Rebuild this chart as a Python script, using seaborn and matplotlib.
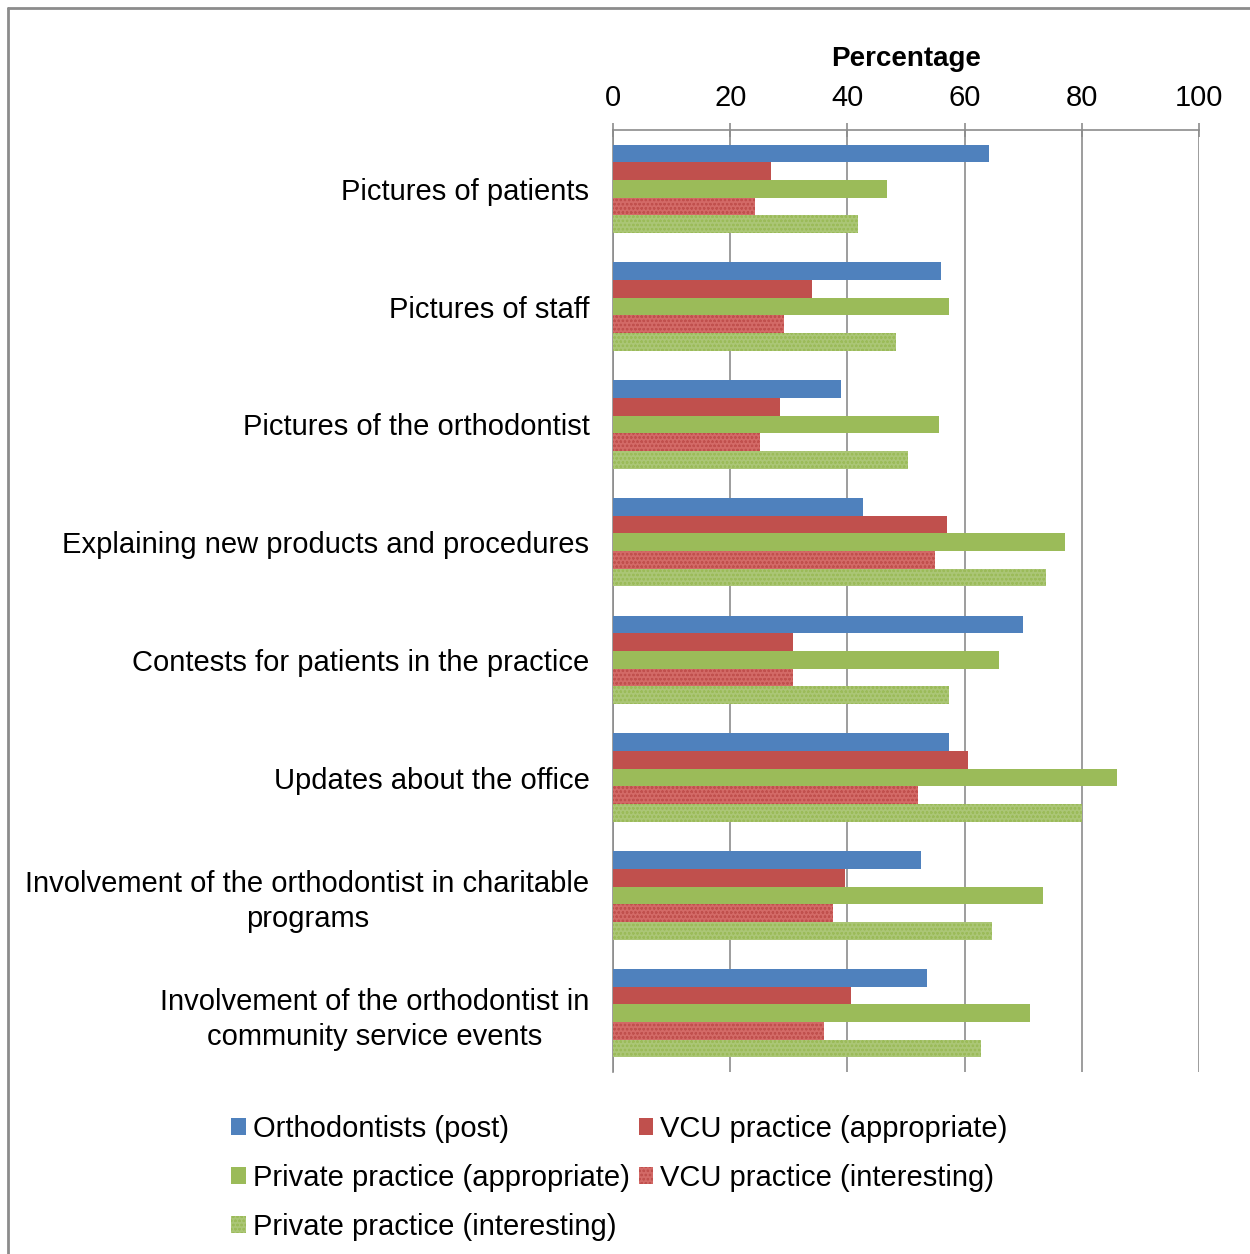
import numpy as np
import pandas as pd
import matplotlib
matplotlib.use("Agg")
import matplotlib.pyplot as plt
from matplotlib.patches import Patch
from matplotlib.lines import Line2D
import seaborn as sns

categories = [
    "Pictures of patients",
    "Pictures of staff",
    "Pictures of the orthodontist",
    "Explaining new products and procedures",
    "Contests for patients in the practice",
    "Updates about the office",
    "Involvement of the orthodontist in charitable\nprograms",
    "Involvement of the orthodontist in\ncommunity service events",
]
series = [
    "Orthodontists (post)",
    "VCU practice (appropriate)",
    "Private practice (appropriate)",
    "VCU practice (interesting)",
    "Private practice (interesting)",
]
orthodontists_post = [64.2, 56.0, 38.9, 42.7, 70.0, 57.3, 52.6, 53.6]
vcu_appropriate = [27.0, 34.0, 28.5, 57.0, 30.7, 60.6, 39.6, 40.6]
private_appropriate = [46.8, 57.3, 55.6, 77.1, 65.9, 86.0, 73.4, 71.2]
vcu_interesting = [24.2, 29.2, 25.1, 54.9, 30.7, 52.0, 37.5, 36.0]
private_interesting = [41.8, 48.3, 50.3, 73.9, 57.3, 80.0, 64.7, 62.8]

values = [orthodontists_post, vcu_appropriate, private_appropriate,
          vcu_interesting, private_interesting]
face_colors = ["#4f81bd", "#c0504d", "#9bbb59", "#d36a67", "#abc676"]
hatch_colors = [None, None, None, "#c0504d", "#9bbb59"]

rows = []
for s, vals in zip(series, values):
    for c, v in zip(categories, vals):
        rows.append({"category": c, "series": s, "value": v})
df = pd.DataFrame(rows)

sns.set_style("white")
plt.rcParams["font.family"] = ["Liberation Sans", "DejaVu Sans"]
plt.rcParams["hatch.linewidth"] = 0.6
plt.rcParams["text.color"] = "black"

fig = plt.figure(figsize=(12.5, 12.54), dpi=100)
ax = fig.add_axes([613 / 1250, 1 - 1072 / 1254, (1199 - 613) / 1250, (1072 - 130) / 1254])

sns.barplot(data=df, y="category", x="value", hue="series", order=categories,
            hue_order=series, palette=face_colors, orient="h", width=0.75,
            saturation=1, legend=False, ax=ax, zorder=3)

# style bars per series (containers are in hue order)
for i, cont in enumerate(ax.containers):
    for bar in cont:
        bar.set_facecolor(face_colors[i])
        bar.set_linewidth(0)
        if hatch_colors[i]:
            bar.set_hatch("oooo")
            bar.set_edgecolor(hatch_colors[i])
            bar.set_linewidth(0)

ax.set_xlim(0, 100)
ax.set_ylim(len(categories) - 0.5, -0.5)
ax.set_xticks(np.arange(0, 101, 20))
ax.xaxis.tick_top()
ax.xaxis.set_label_position("top")
ax.set_xlabel("Percentage", fontsize=20, fontweight="bold", labelpad=13, color="black")
ax.set_ylabel("")
ax.tick_params(axis="x", which="major", direction="inout", length=10, width=1.2,
               color="#8c8c8c", labelsize=21, pad=8, labelcolor="black")
ax.grid(axis="x", color="#8c8c8c", linewidth=1.2, zorder=0)
ax.set_axisbelow(True)

ax.set_yticks(range(len(categories)))
ax.set_yticklabels(categories, fontsize=21, multialignment="center", color="black",
                   linespacing=1.3)
ax.set_yticks(np.arange(-0.5, len(categories)), minor=True)
ax.tick_params(axis="y", which="major", length=0, pad=17)
ax.tick_params(axis="y", which="minor", direction="out", length=6, width=1.2,
               color="#8c8c8c")

for side in ["right", "bottom"]:
    ax.spines[side].set_visible(False)
for side in ["top", "left"]:
    ax.spines[side].set_color("#8c8c8c")
    ax.spines[side].set_linewidth(1.2)

handles = []
order = [0, 2, 4, 1, 3]
for i in order:
    h = Patch(facecolor=face_colors[i], edgecolor=hatch_colors[i] or face_colors[i],
              hatch="oooo" if hatch_colors[i] else None, linewidth=0, label=series[i])
    handles.append(h)
fig.legend(handles=handles, ncol=2, loc="upper left",
           bbox_to_anchor=(231 / 1250, 1 - 1115 / 1254), frameon=False,
           fontsize=21, handlelength=0.5, handleheight=0.5, handletextpad=0.25,
           labelspacing=0.72, columnspacing=0.3, borderaxespad=0, borderpad=0)

# outer frame (top and left edges visible)
fig.add_artist(Line2D([8 / 1250, 8 / 1250], [0, 1 - 8 / 1254], color="#8c8c8c", linewidth=2))
fig.add_artist(Line2D([8 / 1250, 1], [1 - 8 / 1254, 1 - 8 / 1254], color="#8c8c8c", linewidth=2))

fig.savefig("out.png", dpi=100)
